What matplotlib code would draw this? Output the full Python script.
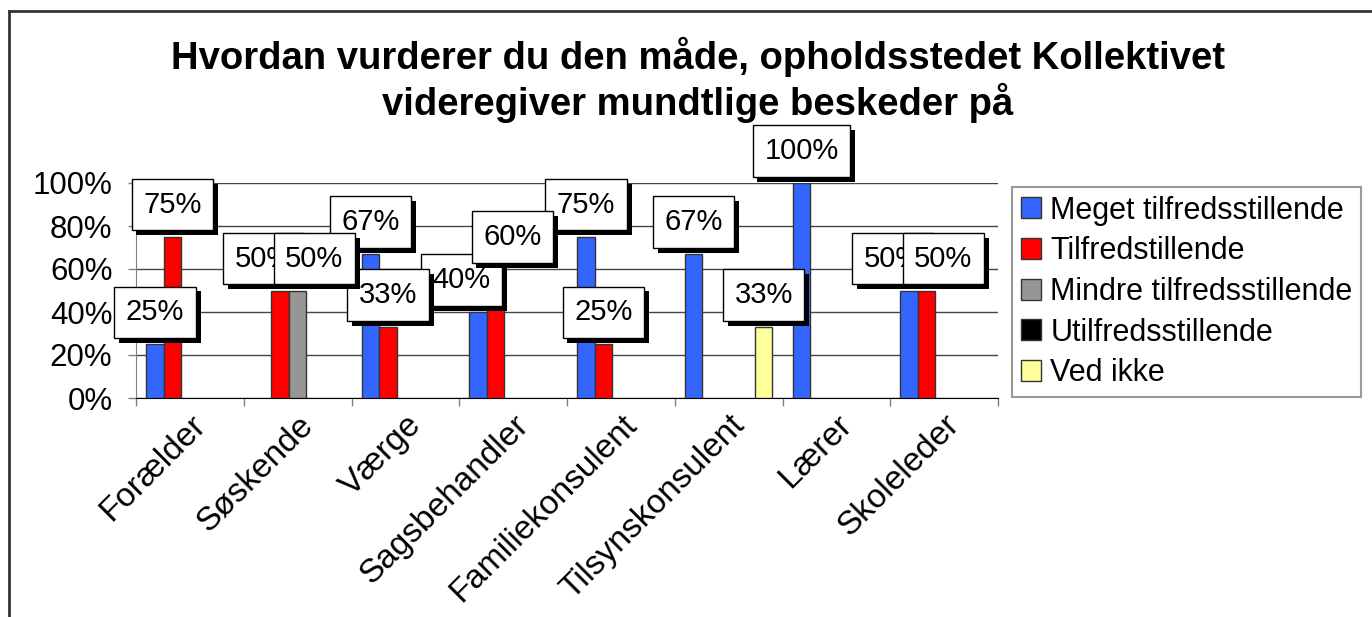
import matplotlib
matplotlib.use('Agg')
import matplotlib.pyplot as plt
import matplotlib.patheffects as pe
import matplotlib.patches as mpatches
from matplotlib.lines import Line2D
from matplotlib.transforms import blended_transform_factory, ScaledTranslation
import numpy as np

plt.rcParams['font.family'] = ['Liberation Sans', 'DejaVu Sans']

categories = ['Forælder', 'Søskende', 'Værge', 'Sagsbehandler',
              'Familiekonsulent', 'Tilsynskonsulent', 'Lærer', 'Skoleleder']
series_names = ['Meget tilfredsstillende', 'Tilfredstillende',
                'Mindre tilfredsstillende', 'Utilfredsstillende', 'Ved ikke']
meget = [25, 0, 67, 40, 75, 67, 100, 50]
tilfreds = [75, 50, 33, 60, 25, 0, 0, 50]
mindre = [0, 50, 0, 0, 0, 0, 0, 0]
utilfreds = [0, 0, 0, 0, 0, 0, 0, 0]
ved_ikke = [0, 0, 0, 0, 0, 33, 0, 0]
colors = ['#3366FF', '#FF0000', '#969696', '#000000', '#FFFF99']

title = 'Hvordan vurderer du den måde, opholdsstedet Kollektivet\nvideregiver mundtlige beskeder på'

W, H = 1372, 617
fig = plt.figure(figsize=(W / 100, H / 100), dpi=100)
ax = fig.add_axes([136 / W, 1 - 398 / H, (998 - 136) / W, (398 - 183) / H])

x = np.arange(len(categories)) + 0.5
bw = 0.1624
all_vals = [meget, tilfreds, mindre, utilfreds, ved_ikke]

# bars (skip zero heights so nothing shows at the baseline)
for k, vals in enumerate(all_vals):
    vals = np.array(vals)
    idx = np.nonzero(vals)[0]
    if len(idx):
        ax.bar(x[idx] + (k - 2) * bw, vals[idx] / 100, bw, color=colors[k],
               edgecolor='#333333', linewidth=1, zorder=3)

# labels that sit close together in one group get pushed apart sideways
nudge = {}
for i in range(len(categories)):
    labelled = [(k, all_vals[k][i]) for k in range(len(all_vals)) if all_vals[k][i] > 0]
    for (k1, v1), (k2, v2) in zip(labelled, labelled[1:]):
        if abs(v1 - v2) < 25:
            nudge[(k1, i)] = -12
            nudge[(k2, i)] = 12

# value labels with drop shadow
z = 10
for k, vals in enumerate(all_vals):
    for i, v in enumerate(vals):
        if v == 0:
            continue
        t = ax.annotate(f'{v}%', xy=(x[i] + (k - 2) * bw, v / 100),
                        xytext=(nudge.get((k, i), 0), 23), textcoords='offset points',
                        ha='center', va='center', fontsize=21,
                        bbox=dict(boxstyle='square,pad=0.4', fc='white',
                                  ec='black', lw=1),
                        zorder=z, annotation_clip=False)
        t.get_bbox_patch().set_path_effects([
            pe.SimplePatchShadow(offset=(3.5, -3.5), shadow_rgbFace='black', alpha=1),
            pe.Normal()])
        z += 1

ax.set_xlim(0, len(categories))
ax.set_ylim(0, 1)
ax.set_yticks(np.arange(0, 1.01, 0.2))
ax.set_yticklabels([f'{int(round(v * 100))}%' for v in np.arange(0, 1.01, 0.2)])
ax.set_xticks(np.arange(0, len(categories) + 1))
ax.set_xticklabels([])
ax.tick_params(axis='y', direction='out', length=6, width=1, color='#808080',
               labelsize=22.5, pad=11)
ax.tick_params(axis='x', direction='out', length=6, width=1, color='#808080')
ax.yaxis.grid(True, color='#444444', linewidth=1)
ax.set_axisbelow(True)
for s in ['top', 'right']:
    ax.spines[s].set_visible(False)
ax.spines['left'].set_color('#808080')
ax.spines['bottom'].set_color('black')

# rotated category labels
trans = blended_transform_factory(ax.transData, ax.transAxes) + \
    ScaledTranslation(0.11, -0.22, fig.dpi_scale_trans)
for i, c in enumerate(categories):
    ax.text(x[i], 0, c, transform=trans, rotation=45, rotation_mode='anchor',
            ha='right', va='center', fontsize=24)

fig.text(698 / W, 1 - 80 / H, title, ha='center', va='center', fontsize=27.5,
         fontweight='bold', linespacing=1.18)

handles = [mpatches.Patch(facecolor=colors[k], edgecolor='#333333', linewidth=1)
           for k in range(len(series_names))]
leg = fig.legend(handles, series_names, loc='upper left',
                 bbox_to_anchor=(1012 / W, 1 - 187 / H), bbox_transform=fig.transFigure,
                 frameon=True, fancybox=False, edgecolor='#808080', fontsize=22,
                 handlelength=0.68, handleheight=0.68, handletextpad=0.3,
                 borderpad=0.28, labelspacing=0.35, borderaxespad=0)
leg.get_frame().set_linewidth(1.5)

# outer chart border (left and top visible)
fig.add_artist(Line2D([8.5 / W, 8.5 / W], [0, 1 - 10.5 / H], color='#333333',
                      lw=2, transform=fig.transFigure))
fig.add_artist(Line2D([8.5 / W, 1], [1 - 10.5 / H, 1 - 10.5 / H], color='#333333',
                      lw=2, transform=fig.transFigure))

fig.savefig('out.png', dpi=100)
